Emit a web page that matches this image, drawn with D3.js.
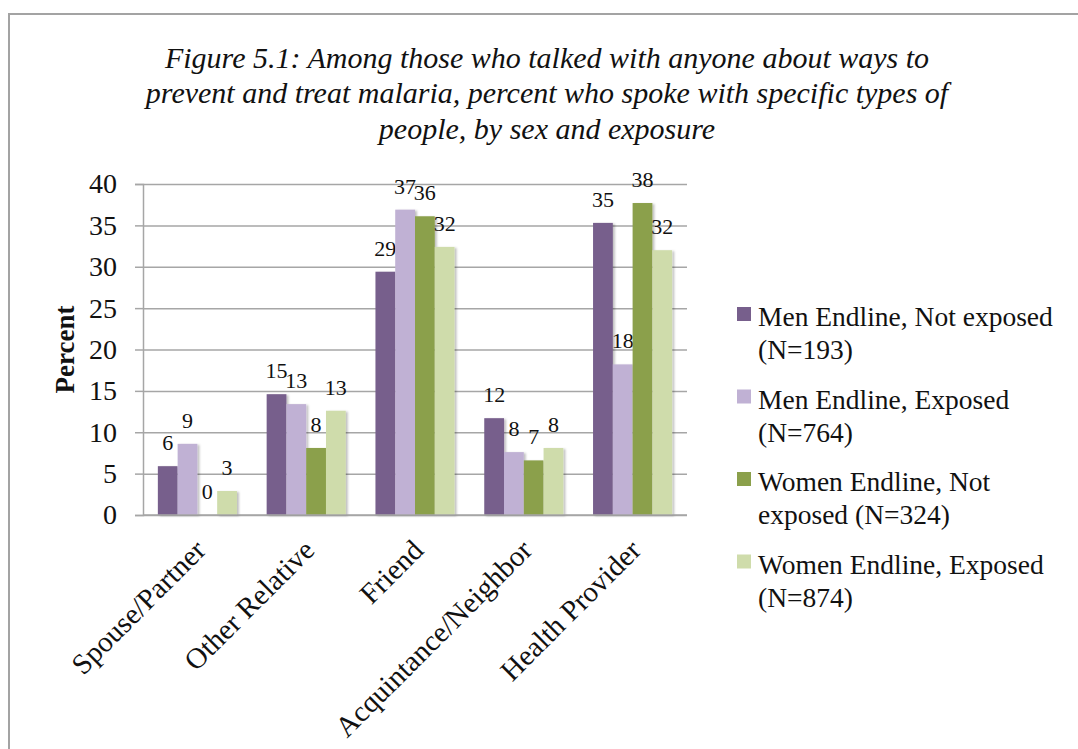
<!DOCTYPE html>
<html>
<head>
<meta charset="utf-8">
<script src="https://cdn.jsdelivr.net/npm/d3@7"></script>
<style>
  html, body { margin: 0; padding: 0; background: #fff; }
  svg { display: block; font-family: "Liberation Serif", "DejaVu Serif", serif; }
</style>
</head>
<body>
<svg id="chart" width="1078" height="749"></svg>
<script>
// Who people talked with about malaria, percent by group
const categories = ["Spouse/Partner", "Other Relative", "Friend", "Acquintance/Neighbor", "Health Provider"];
const seriesNames = [
  "Men Endline, Not exposed (N=193)",
  "Men Endline, Exposed (N=764)",
  "Women Endline, Not exposed (N=324)",
  "Women Endline, Exposed (N=874)"
];
const legendLines = [
  ["Men Endline, Not exposed", "(N=193)"],
  ["Men Endline, Exposed", "(N=764)"],
  ["Women Endline, Not", "exposed (N=324)"],
  ["Women Endline, Exposed", "(N=874)"]
];
const menNotExposed   = [5.9, 14.6, 29.4, 11.7, 35.3];
const menExposed      = [8.6, 13.4, 36.9, 7.6, 18.2];
const womenNotExposed = [0.0, 8.1, 36.1, 6.6, 37.7];
const womenExposed    = [2.9, 12.6, 32.4, 8.1, 32.0];
const seriesValues = [menNotExposed, menExposed, womenNotExposed, womenExposed];
const yTicks = [0, 5, 10, 15, 20, 25, 30, 35, 40];
const titleLines = [
  "Figure 5.1: Among those who talked with anyone about ways to",
  "prevent and treat malaria, percent who spoke with specific types of",
  "people, by sex and exposure"
];
const colors = ["#775f8c", "#c0b1d4", "#8ba04b", "#cfdcab"];

const svg = d3.select("#chart");

// chart frame (extends past the right and bottom edges)
svg.append("rect")
  .attr("x", 9).attr("y", 14).attr("width", 1200).attr("height", 900)
  .attr("fill", "#fff").attr("stroke", "#a3a3a3").attr("stroke-width", 2);

const defs = svg.append("defs");
const shadow = defs.append("filter").attr("id", "barShadow")
  .attr("x", "-20%").attr("y", "-10%").attr("width", "160%").attr("height", "130%");
shadow.append("feDropShadow").attr("dx", 2).attr("dy", 1).attr("stdDeviation", 1.2)
  .attr("flood-color", "#000").attr("flood-opacity", 0.25);

// title
svg.append("g").selectAll("text").data(titleLines).join("text")
  .attr("x", 547).attr("y", (d, i) => 68 + i * 35.3)
  .attr("text-anchor", "middle")
  .style("font-style", "italic").style("font-size", "30px").attr("fill", "#111")
  .text(d => d);

const margin = { left: 143, top: 184, right: 687, bottom: 515 };
const x0 = d3.scaleBand().domain(categories)
  .range([margin.left, margin.right]).paddingInner(0.273).paddingOuter(0.1365);
const x1 = d3.scaleBand().domain(d3.range(seriesNames.length)).range([0, x0.bandwidth()]);
const y = d3.scaleLinear().domain([0, 40]).range([margin.bottom, margin.top]);

// gridlines + y axis
const yAxis = d3.axisLeft(y).tickValues(yTicks).tickSize(8).tickPadding(18);
const yG = svg.append("g").attr("transform", `translate(${margin.left},0)`).call(yAxis);
yG.select(".domain").attr("stroke", "#a6a6a6").attr("stroke-width", 1.5);
yG.selectAll(".tick line").attr("stroke", "#a6a6a6").attr("stroke-width", 1.5);
yG.selectAll(".tick text").style("font-size", "28px").style("font-family", "Liberation Serif").attr("fill", "#111");
yG.selectAll(".tick").append("line")
  .attr("x1", 0).attr("x2", margin.right - margin.left)
  .attr("stroke", "#a6a6a6").attr("stroke-width", 1.5);

// y axis title
svg.append("text")
  .attr("transform", `translate(74,${(margin.top + margin.bottom) / 2}) rotate(-90)`)
  .attr("text-anchor", "middle").style("font-weight", "bold").style("font-size", "27px")
  .attr("fill", "#111").text("Percent");

// bars
const groups = svg.append("g").selectAll("g").data(categories).join("g")
  .attr("transform", d => `translate(${x0(d)},0)`);
const cells = groups.selectAll("g").data((c, ci) => seriesValues.map((vals, si) => ({ si, v: vals[ci] })))
  .join("g");
cells.append("rect")
  .attr("x", d => x1(d.si)).attr("width", x1.bandwidth())
  .attr("y", d => y(d.v)).attr("height", d => y(0) - y(d.v))
  .attr("fill", d => colors[d.si])
  .attr("filter", d => d.v > 0 ? "url(#barShadow)" : null);
cells.append("text")
  .attr("x", d => x1(d.si) + x1.bandwidth() / 2)
  .attr("y", d => y(d.v) - 16)
  .attr("text-anchor", "middle").style("font-size", "22px").attr("fill", "#111")
  .text(d => d3.format(".0f")(d.v));

// x axis line
svg.append("line")
  .attr("x1", margin.left).attr("x2", margin.right)
  .attr("y1", y(0)).attr("y2", y(0))
  .attr("stroke", "#a6a6a6").attr("stroke-width", 1.5);

// rotated category labels
svg.append("g").selectAll("text").data(categories).join("text")
  .attr("transform", d => `translate(${x0(d) + x0.bandwidth() / 2 + 10},${y(0) + 37}) rotate(-45)`)
  .attr("text-anchor", "end").style("font-size", "29px").attr("fill", "#111")
  .text(d => d);

// legend
const legend = svg.append("g").selectAll("g").data(legendLines).join("g")
  .attr("transform", (d, i) => `translate(737,${307 + i * 82.5})`);
legend.append("rect").attr("width", 14).attr("height", 14).attr("fill", (d, i) => colors[i]);
legend.append("text")
  .attr("x", 21).attr("y", 19)
  .style("font-size", "27.5px").attr("fill", "#111")
  .selectAll("tspan").data(d => d).join("tspan")
  .attr("x", 21).attr("dy", (d, i) => i === 0 ? 0 : 33)
  .text(d => d);
</script>
</body>
</html>
